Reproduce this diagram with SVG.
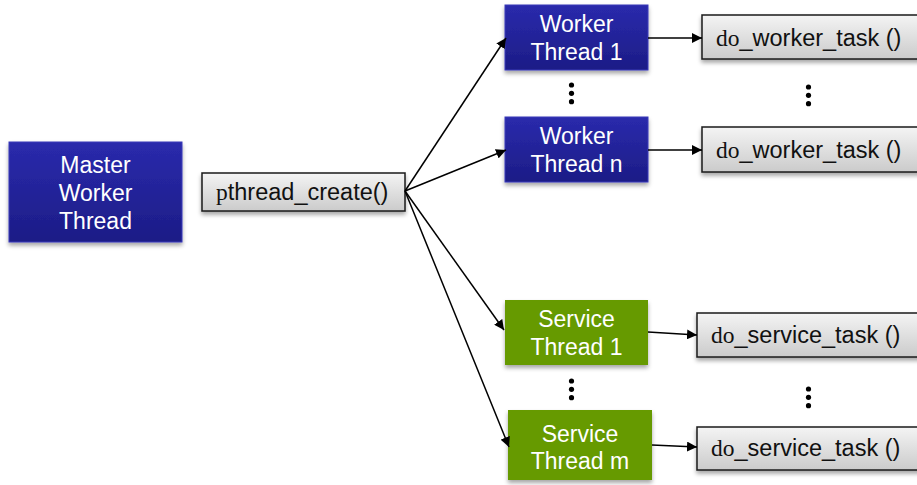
<svg xmlns="http://www.w3.org/2000/svg" width="917" height="485" viewBox="0 0 917 485">
  <defs>
    <linearGradient id="gBlue" x1="0" y1="0" x2="0" y2="1">
      <stop offset="0" stop-color="#2a2aac"/>
      <stop offset="1" stop-color="#1c1c86"/>
    </linearGradient>
    <linearGradient id="gGray" x1="0" y1="0" x2="0" y2="1">
      <stop offset="0" stop-color="#f4f4f4"/>
      <stop offset="1" stop-color="#cbcbcb"/>
    </linearGradient>
    <filter id="shadow" x="-10%" y="-10%" width="120%" height="140%">
      <feDropShadow dx="0" dy="3" stdDeviation="2" flood-color="#000" flood-opacity="0.35"/>
    </filter>
    <marker id="arrow" viewBox="0 0 10 10" refX="10" refY="5" markerWidth="10" markerHeight="10" markerUnits="userSpaceOnUse" orient="auto">
      <path d="M0,0 L10,5 L0,10 z" fill="#000"/>
    </marker>
    <style>
      .blue { fill: url(#gBlue); stroke: #3a3ab8; stroke-width: 1; filter: url(#shadow); }
      .green { fill: #669a00; filter: url(#shadow); }
      .gray { fill: url(#gGray); stroke: #1a1a1a; stroke-width: 1.5; filter: url(#shadow); }
      .lbl { font-family: "Liberation Sans", Arial, sans-serif; font-size: 23px; fill: #fff; text-anchor: middle; }
      .fn { font-family: "Liberation Sans", Arial, sans-serif; font-size: 23.5px; fill: #111; }
      .serif { font-family: "Liberation Serif", "Times New Roman", serif; }
      .conn line { stroke: #000; stroke-width: 1.5; marker-end: url(#arrow); }
      .dots circle { fill: #000; }
    </style>
  </defs>

  <rect width="917" height="485" fill="#fff"/>

  <!-- master thread -->
  <g id="master">
    <rect class="blue" x="9" y="142" width="173" height="100"/>
    <text class="lbl" x="95.5" y="173">Master</text>
    <text class="lbl" x="95.5" y="201">Worker</text>
    <text class="lbl" x="95.5" y="229">Thread</text>
  </g>

  <!-- thread creation call -->
  <g id="pthread-create">
    <rect class="gray" x="202" y="173" width="203" height="38"/>
    <text class="fn" x="216" y="200"><tspan class="serif">p</tspan>thread_create()</text>
  </g>

  <!-- worker threads -->
  <g id="worker-1">
    <rect class="blue" x="505" y="5" width="143" height="65"/>
    <text class="lbl" x="576.5" y="32">Worker</text>
    <text class="lbl" x="576.5" y="60">Thread 1</text>
  </g>
  <g id="worker-n">
    <rect class="blue" x="505" y="117" width="143" height="65"/>
    <text class="lbl" x="576.5" y="144">Worker</text>
    <text class="lbl" x="576.5" y="172">Thread n</text>
  </g>

  <!-- service threads -->
  <g id="service-1">
    <rect class="green" x="505" y="300" width="143" height="65"/>
    <text class="lbl" x="576.5" y="327">Service</text>
    <text class="lbl" x="576.5" y="355">Thread 1</text>
  </g>
  <g id="service-m">
    <rect class="green" x="508" y="410" width="144" height="70"/>
    <text class="lbl" x="580" y="442">Service</text>
    <text class="lbl" x="580" y="469">Thread m</text>
  </g>

  <!-- task functions -->
  <g id="worker-task-1">
    <rect class="gray" x="702" y="15" width="220" height="44"/>
    <text class="fn" x="716" y="46"><tspan class="serif">do</tspan>_worker_task ()</text>
  </g>
  <g id="worker-task-n">
    <rect class="gray" x="702" y="127" width="220" height="45"/>
    <text class="fn" x="716" y="158"><tspan class="serif">do</tspan>_worker_task ()</text>
  </g>
  <g id="service-task-1">
    <rect class="gray" x="697" y="313" width="225" height="44"/>
    <text class="fn" x="711" y="343"><tspan class="serif">do</tspan>_service_task ()</text>
  </g>
  <g id="service-task-m">
    <rect class="gray" x="697" y="427" width="225" height="43"/>
    <text class="fn" x="711" y="456"><tspan class="serif">do</tspan>_service_task ()</text>
  </g>

  <!-- ellipsis markers -->
  <g class="dots">
    <circle cx="571.5" cy="85" r="2.6"/><circle cx="571.5" cy="93.3" r="2.6"/><circle cx="571.5" cy="101.7" r="2.6"/>
    <circle cx="808.5" cy="87" r="2.6"/><circle cx="808.5" cy="95.3" r="2.6"/><circle cx="808.5" cy="103.7" r="2.6"/>
    <circle cx="571.5" cy="381" r="2.6"/><circle cx="571.5" cy="389.3" r="2.6"/><circle cx="571.5" cy="397.7" r="2.6"/>
    <circle cx="808.5" cy="389" r="2.6"/><circle cx="808.5" cy="397.3" r="2.6"/><circle cx="808.5" cy="405.7" r="2.6"/>
  </g>

  <!-- connectors -->
  <g id="connectors" class="conn">
    <line x1="405" y1="191" x2="506" y2="38"/>
    <line x1="405" y1="191" x2="506" y2="150"/>
    <line x1="405" y1="191" x2="504" y2="330"/>
    <line x1="405" y1="191" x2="509" y2="447"/>
    <line x1="648" y1="38" x2="702" y2="38"/>
    <line x1="648" y1="150" x2="702" y2="150"/>
    <line x1="648" y1="332" x2="697" y2="335"/>
    <line x1="652" y1="445" x2="697" y2="447"/>
  </g>
</svg>
